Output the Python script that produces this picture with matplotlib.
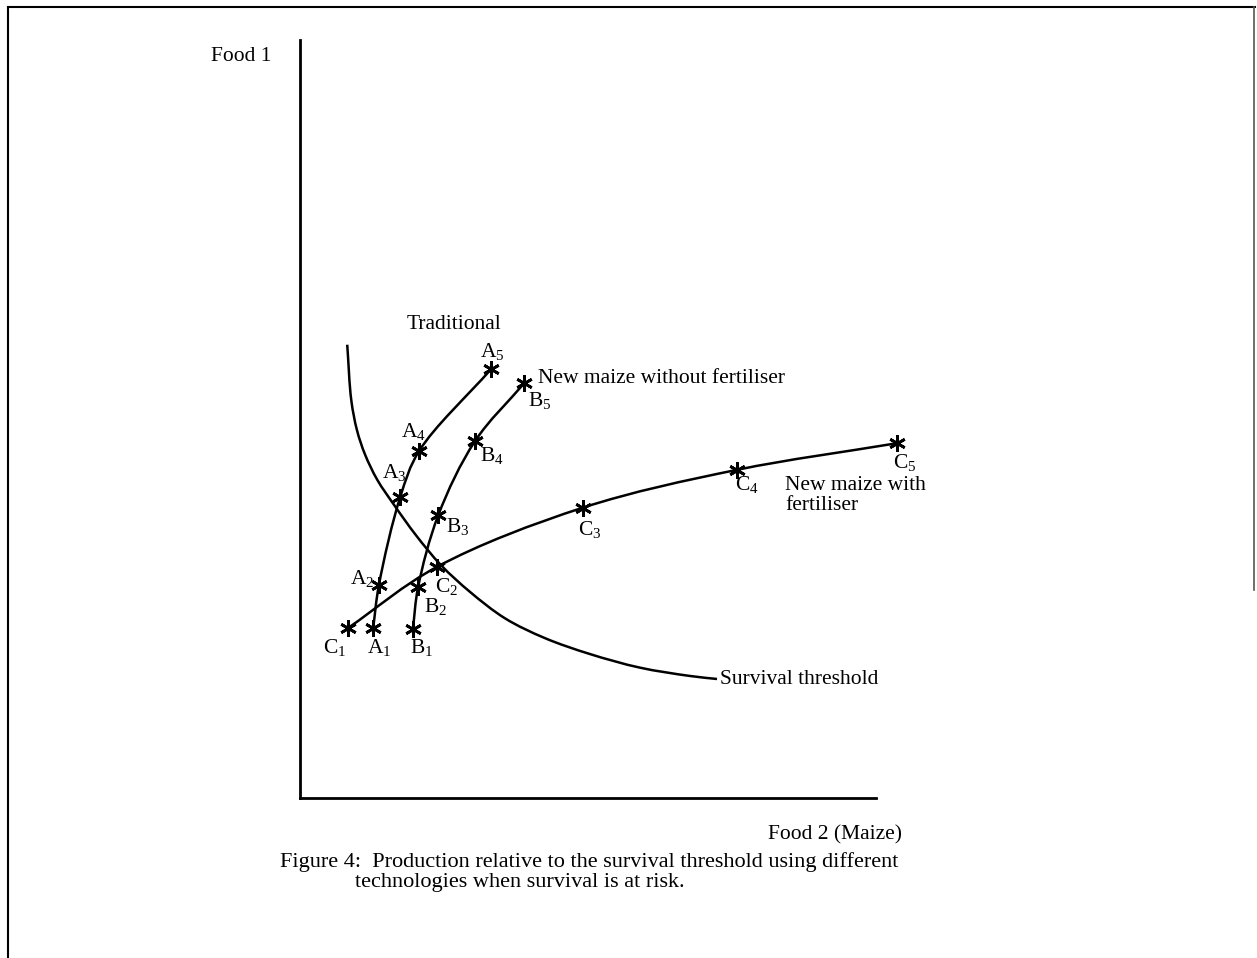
import numpy as np
import matplotlib
matplotlib.use("Agg")
import matplotlib.pyplot as plt
from matplotlib.path import Path
from matplotlib.patches import PathPatch
from matplotlib.lines import Line2D

plt.rcParams['font.family'] = ['Liberation Serif', 'DejaVu Serif']
plt.rcParams['mathtext.fontset'] = 'custom'
plt.rcParams['mathtext.rm'] = 'Liberation Serif'
plt.rcParams['mathtext.it'] = 'Liberation Serif'

# ---- data (arbitrary units: Food 2 on x, Food 1 on y) ----
trad_x = [1.27, 1.37, 1.74, 2.07, 3.32]
trad_y = [2.24, 2.81, 3.97, 4.58, 5.66]
trad_labels = ['A$_1$', 'A$_2$', 'A$_3$', 'A$_4$', 'A$_5$']

nofert_x = [1.96, 2.05, 2.40, 3.04, 3.89]
nofert_y = [2.23, 2.78, 3.73, 4.71, 5.47]
nofert_labels = ['B$_1$', 'B$_2$', 'B$_3$', 'B$_4$', 'B$_5$']

fert_x = [0.83, 2.38, 4.91, 7.59, 10.36]
fert_y = [2.24, 3.05, 3.83, 4.33, 4.68]
fert_labels = ['C$_1$', 'C$_2$', 'C$_3$', 'C$_4$', 'C$_5$']

surv_x = [0.82, 0.89, 0.99, 1.13, 1.34, 1.63, 2.01, 2.45, 2.95, 3.56, 4.25, 5.03, 5.90, 6.77, 7.24]
surv_y = [5.98, 5.25, 4.85, 4.53, 4.20, 3.87, 3.47, 3.07, 2.72, 2.37, 2.11, 1.90, 1.72, 1.61, 1.57]

fig = plt.figure(figsize=(12.57, 9.58), dpi=100)
ax = fig.add_axes([300 / 1257, (958 - 798) / 958, 576 / 1257, 758 / 958])
ax.set_xlim(0, 10)
ax.set_ylim(0, 10)

# aspect factors so that curve smoothing works in screen-like space
SX = ax.bbox.width / 10.0
SY = ax.bbox.height / 10.0


def smooth_path(xs, ys, alpha=0.5):
    pts = np.column_stack([np.asarray(xs) * SX, np.asarray(ys) * SY]).astype(float)
    n = len(pts)
    ext = np.vstack([2 * pts[0] - pts[1], pts, 2 * pts[-1] - pts[-2]])
    verts = [pts[0]]
    codes = [Path.MOVETO]
    for i in range(1, n):
        p0, p1, p2, p3 = ext[i - 1], ext[i], ext[i + 1], ext[i + 2]
        d1 = np.linalg.norm(p1 - p0) ** alpha
        d2 = np.linalg.norm(p2 - p1) ** alpha
        d3 = np.linalg.norm(p3 - p2) ** alpha
        c1 = (d1 ** 2 * p2 - d2 ** 2 * p0 + (2 * d1 ** 2 + 3 * d1 * d2 + d2 ** 2) * p1) / (3 * d1 * (d1 + d2))
        c2 = (d3 ** 2 * p1 - d2 ** 2 * p3 + (2 * d3 ** 2 + 3 * d3 * d2 + d2 ** 2) * p2) / (3 * d3 * (d3 + d2))
        verts += [c1, c2, p2]
        codes += [Path.CURVE4] * 3
    verts = np.array(verts)
    verts[:, 0] /= SX
    verts[:, 1] /= SY
    return Path(verts, codes)


for s in ['top', 'right']:
    ax.spines[s].set_visible(False)
for s in ['left', 'bottom']:
    ax.spines[s].set_linewidth(2.0)
ax.set_xticks([])
ax.set_yticks([])

FS = 15.5
LW = 1.8

for xs, ys in [(trad_x, trad_y), (nofert_x, nofert_y), (fert_x, fert_y), (surv_x, surv_y)]:
    ax.add_patch(PathPatch(smooth_path(xs, ys), fill=False, lw=LW, color='black',
                           clip_on=False, capstyle='butt'))

for xs, ys in [(trad_x, trad_y), (nofert_x, nofert_y), (fert_x, fert_y)]:
    ax.plot(xs, ys, linestyle='none', marker=(6, 2, 0), markersize=12,
            markeredgewidth=2.0, color='black', clip_on=False)

# label offsets in pixels
trad_off = [(6, -19), (-17, 7), (-6, 25), (-6, 19), (1, 17)]
nofert_off = [(9, -19), (17, -19), (19, -11), (17, -15), (16, -17)]
fert_off = [(-13, -19), (9, -20), (7, -22), (10, -15), (8, -19)]

for xs, ys, labs, offs in [(trad_x, trad_y, trad_labels, trad_off),
                           (nofert_x, nofert_y, nofert_labels, nofert_off),
                           (fert_x, fert_y, fert_labels, fert_off)]:
    for x, y, lab, off in zip(xs, ys, labs, offs):
        ax.annotate(lab, (x, y), xytext=off, textcoords='offset pixels',
                    ha='center', va='center', fontsize=FS, annotation_clip=False)

ax.annotate('Traditional', (trad_x[-1], trad_y[-1]), xytext=(-37, 44),
            textcoords='offset pixels', ha='center', va='center', fontsize=FS)
ax.annotate('New maize without fertiliser', (nofert_x[-1], nofert_y[-1]), xytext=(14, 5),
            textcoords='offset pixels', ha='left', va='center', fontsize=FS)
ax.annotate('New maize with\nfertiliser', (fert_x[3], fert_y[3]), xytext=(48, -26),
            textcoords='offset pixels', ha='left', va='center', fontsize=FS,
            linespacing=1.1)
ax.annotate('Survival threshold', (surv_x[-1], surv_y[-1]), xytext=(3, -1),
            textcoords='offset pixels', ha='left', va='center', fontsize=FS)

ax.text(-0.102, 0.978, 'Food 1', transform=ax.transAxes, ha='center', va='center', fontsize=FS)
ax.text(0.929, -0.049, 'Food 2 (Maize)', transform=ax.transAxes, ha='center', va='center', fontsize=FS)

fig.text(280 / 1257, 1 - 862 / 958,
         'Figure 4:  Production relative to the survival threshold using different',
         ha='left', va='center', fontsize=16)
fig.text(355 / 1257, 1 - 883 / 958, 'technologies when survival is at risk.',
         ha='left', va='center', fontsize=16)

# outer frame
fig.add_artist(Line2D([8 / 1257, 8 / 1257], [0, 1 - 8 / 958], color='black', lw=1.5,
                      transform=fig.transFigure))
fig.add_artist(Line2D([8 / 1257, 1255 / 1257], [1 - 7 / 958, 1 - 7 / 958], color='black', lw=1.5,
                      transform=fig.transFigure))
fig.add_artist(Line2D([1254 / 1257, 1254 / 1257], [1 - 7 / 958, 1 - 590 / 958], color='#555555', lw=1.2,
                      transform=fig.transFigure))

fig.savefig('out.png', dpi=100, facecolor='white')
